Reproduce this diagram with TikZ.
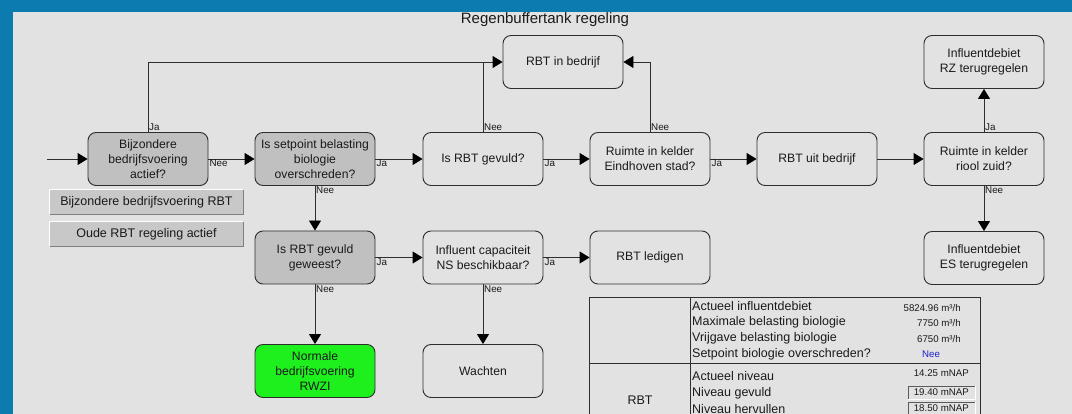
\documentclass[tikz,border=0pt]{standalone}
\usepackage{fontspec}
\setmainfont{Liberation Sans}
\usetikzlibrary{arrows.meta,calc}
\definecolor{frame}{HTML}{0B7BB0}
\definecolor{bg}{HTML}{E2E2E2}
\definecolor{boxgray}{HTML}{C0C0C0}
\definecolor{btngray}{HTML}{C8C8C8}
\definecolor{okgreen}{HTML}{1EF01E}
\definecolor{linec}{HTML}{2E2E2E}
\definecolor{txt}{HTML}{1A1A1A}
\definecolor{neeblue}{HTML}{2020D0}
\begin{document}
\begin{tikzpicture}[x=1pt,y=-1pt,
  flow/.style={draw=linec, line width=0.9pt, rounded corners=8pt, minimum width=120pt, minimum height=53pt, align=center, font=\fontsize{12.2}{15}\selectfont, text=txt, inner sep=0pt},
  graybox/.style={flow, fill=boxgray},
  greenbox/.style={flow, fill=okgreen},
  arr/.style={draw=linec, line width=0.9pt, -{Triangle[length=10pt,width=12pt,fill=black,color=black]}},
  conn/.style={draw=linec, line width=0.9pt},
  lbl/.style={font=\fontsize{9.8}{10}\selectfont, text=txt, inner sep=1pt},
  btn/.style={fill=btngray, minimum width=193pt, minimum height=24pt, inner sep=0pt, font=\fontsize{12.5}{14}\selectfont, text=txt},
  tlab/.style={anchor=west, font=\fontsize{12.5}{14}\selectfont, text=txt, inner sep=0pt},
  tval/.style={anchor=east, font=\fontsize{9.7}{11}\selectfont, text=txt, inner sep=0pt}
]
\useasboundingbox (0,0) rectangle (1072,414);
\fill[frame] (0,0) rectangle (1072,414);
\fill[bg] (13,12) rectangle (1072,414);

\node[font=\fontsize{15}{17}\selectfont, text=txt] (title) at (545,20) {Regenbuffertank regeling};

% flow boxes
\node[graybox] (b1) at (148,159) {Bijzondere\\bedrijfsvoering\\actief?};
\node[graybox] (b2) at (315,159) {Is setpoint belasting\\biologie\\overschreden?};
\node[flow] (b3) at (483,159) {Is RBT gevuld?};
\node[flow] (b4) at (650,159) {Ruimte in kelder\\Eindhoven stad?};
\node[flow] (b5) at (817,159) {RBT uit bedrijf};
\node[flow] (b6) at (984,159) {Ruimte in kelder\\riool zuid?};
\node[flow] (b7) at (984,62) {Influentdebiet\\RZ terugregelen};
\node[flow] (b8) at (563,62) {RBT in bedrijf};
\node[graybox] (b9) at (315,257.5) {Is RBT gevuld\\geweest?};
\node[flow] (b10) at (483,257.5) {Influent capaciteit\\NS beschikbaar?};
\node[flow] (b11) at (650,257.5) {RBT ledigen};
\node[flow] (b12) at (984,258) {Influentdebiet\\ES terugregelen};
\node[greenbox] (b13) at (315,371) {Normale\\bedrijfsvoering\\RWZI};
\node[flow] (b14) at (483,371) {Wachten};

% entry
\coordinate (start) at (47,159);
\draw[arr] (start) -- (b1);

% horizontal connectors
\draw[arr] (b1) -- (b2);
\node[lbl, anchor=north west] (l1) at (b1.east) {Nee};
\draw[arr] (b2) -- (b3);
\node[lbl, anchor=north west] (l2) at (b2.east) {Ja};
\draw[arr] (b3) -- (b4);
\node[lbl, anchor=north west] (l3) at (b3.east) {Ja};
\draw[arr] (b4) -- (b5);
\node[lbl, anchor=north west] (l4) at (b4.east) {Ja};
\draw[arr] (b5) -- (b6);
\draw[arr] (b9) -- (b10);
\node[lbl, anchor=north west] (l5) at (b9.east) {Ja};
\draw[arr] (b10) -- (b11);
\node[lbl, anchor=north west] (l6) at (b10.east) {Ja};

% upward connectors
\draw[arr] (b1.north) |- (b8.west);
\node[lbl, anchor=south west] (l7) at (b1.north) {Ja};
\draw[conn] (b3.north) -- (b3.north |- b8.west);
\node[lbl, anchor=south west] (l8) at (b3.north) {Nee};
\draw[arr] (b4.north) |- (b8.east);
\node[lbl, anchor=south west] (l9) at (b4.north) {Nee};
\draw[arr] (b6) -- (b7);
\node[lbl, anchor=south west] (l10) at (b6.north) {Ja};

% downward connectors
\draw[arr] (b6) -- (b12);
\node[lbl, anchor=north west] (l11) at (b6.south) {Nee};
\draw[arr] (b2) -- (b9);
\node[lbl, anchor=north west] (l12) at (b2.south) {Nee};
\draw[arr] (b9) -- (b13);
\node[lbl, anchor=north west] (l13) at (b9.south) {Nee};
\draw[arr] (b10) -- (b14);
\node[lbl, anchor=north west] (l14) at (b10.south) {Nee};

% buttons
\node[btn] (btn1) at (146.5,202) {Bijzondere bedrijfsvoering RBT};
\draw[white, line width=1pt] (btn1.south west) |- (btn1.north east);
\draw[gray, line width=1pt] (btn1.south west) -| (btn1.north east);
\node[btn] (btn2) at (146.5,234) {Oude RBT regeling actief};
\draw[white, line width=1pt] (btn2.south west) |- (btn2.north east);
\draw[gray, line width=1pt] (btn2.south west) -| (btn2.north east);

% table
\draw[linec, line width=0.9pt] (589,420) |- (980,297) -- (980,420);
\draw[linec, line width=0.9pt] (690,297) -- (690,420);
\draw[linec, line width=0.9pt] (589,363) -- (980,363);
\node[font=\fontsize{12.5}{14}\selectfont, text=txt] (rbt) at (640,400) {RBT};

\node[tlab] (t1) at (692,306) {Actueel influentdebiet};
\node[tlab] (t2) at (692,322) {Maximale belasting biologie};
\node[tlab] (t3) at (692,338) {Vrijgave belasting biologie};
\node[tlab] (t4) at (692,354) {Setpoint biologie overschreden?};
\node[tlab] (t5) at (692,376) {Actueel niveau};
\node[tlab] (t6) at (692,393) {Niveau gevuld};
\node[tlab] (t7) at (692,409) {Niveau hervullen};

\node[tval] (v1) at (961,308) {5824.96 m³/h};
\node[tval] (v2) at (961,323) {7750 m³/h};
\node[tval] (v3) at (961,339) {6750 m³/h};
\node[font=\fontsize{9.7}{11}\selectfont, text=neeblue, inner sep=0pt] (v4) at (931,354) {Nee};
\node[tval] (v5) at (969,373) {14.25 mNAP};
\draw[gray!70!black, line width=0.9pt] (908,399) |- (975,386);
\draw[white, line width=0.9pt] (908,399) -| (975,386);
\node[tval] (v6) at (969,392.5) {19.40 mNAP};
\draw[gray!70!black, line width=0.9pt] (908,416) |- (975,402);
\draw[white, line width=0.9pt] (975,402) -- (975,416);
\node[tval] (v7) at (969,408.5) {18.50 mNAP};
\end{tikzpicture}
\end{document}
